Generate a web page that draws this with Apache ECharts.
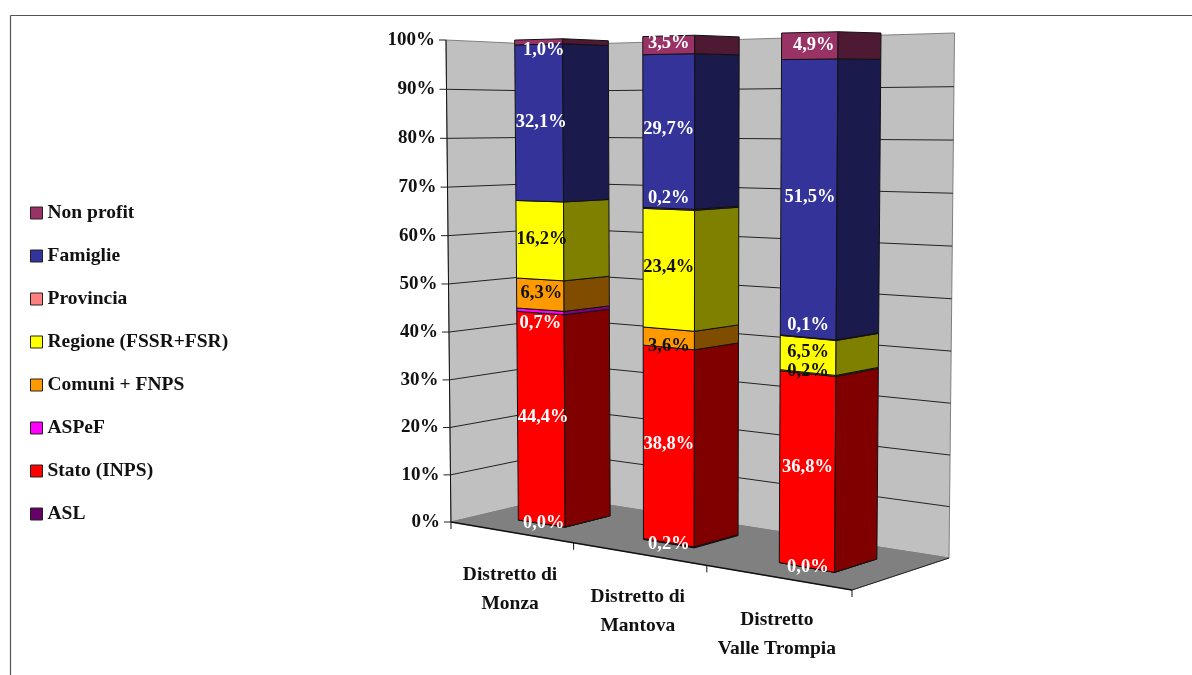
<!DOCTYPE html>
<html><head><meta charset="utf-8"><style>html,body{margin:0;padding:0;background:#fff}#c{width:1192px;height:675px}</style>
<script src="https://cdn.jsdelivr.net/npm/echarts@6/dist/echarts.min.js"></script></head>
<body><div id="c"></div>
<script>
// ---------- data (percent, as printed on the chart) ----------
const categories = ['Distretto di\nMonza', 'Distretto di\nMantova', 'Distretto\nValle Trompia'];
const tickValues = [0,10,20,30,40,50,60,70,80,90,100];
const seriesNames = ['ASL','Stato (INPS)','ASPeF','Comuni + FNPS','Regione (FSSR+FSR)','Provincia','Famiglie','Non profit'];
const asl       = [0.0, 0.2, 0.0];
const stato     = [44.4, 38.8, 36.8];
const aspef     = [0.7, null, null];
const comuni    = [6.3, 3.6, 0.2];
const regione   = [16.2, 23.4, 6.5];
const provincia = [null, 0.2, 0.1];
const famiglie  = [32.1, 29.7, 51.5];
const nonProfit = [1.0, 3.5, 4.9];
const allValues = [asl, stato, aspef, comuni, regione, provincia, famiglie, nonProfit];

// ---------- styles ----------
const faceColors = ['#660066','#FF0000','#FF00FF','#FF9900','#FFFF00','#FF8080','#333399','#993366'];
const sideColors = ['#330033','#800000','#800080','#804D00','#808000','#804040','#1A1A4D','#4D1933'];
const labelColors = ['#fff','#fff','#fff','#111','#111','#fff','#fff','#fff'];
const FONT = '"Liberation Serif"';
const labelNudge = {'2,0':[0,12],'7,0':[5,8],'3,1':[0,8],'5,1':[0,-11],'5,2':[0,-12],'3,2':[0,-2],'4,2':[0,-3],
  '0,0':[2,0],'0,1':[0,1],'0,2':[1,0],'1,0':[2,-1],'3,0':[1,-1],'4,0':[2,-1],'6,0':[2,-1],'7,2':[4,-1],'1,1':[0,-1],'1,2':[0,-3],'4,1':[0,-2],'6,1':[0,-2],'7,1':[0,-2],'6,2':[1,-1]};

// ---------- chart layout: grid gives unit space, project() gives the 3D view ----------
const GRID = {left:100, top:100, width:600, height:400};
function floorPt(u,d){
  const W = 1 - 0.1189*u + 0.0524*d;
  return [(299.7*u + 135.2*d + 451)/W, (-2.15*u + 1.04*d + 522)/W];
}
function project(u,d,v){
  const f = floorPt(u,d);
  const g = v/(1 + 0.025*(1-v));
  const bow = u*(1-u);
  const h = 482 + 77.6*u - 30*d - 4.6*u*d - 16*bow;
  const dx = -5 + 9*u + 1.5*d;
  return [f[0] + dx*g, f[1] - 8*bow - h*g];
}
const toU = px => (px - GRID.left)/GRID.width;
const toV = py => (GRID.top + GRID.height - py)/GRID.height;
const BAR_HALF = 0.064, D0 = 0.28, D1 = 0.71;

const totals = categories.map((_,i)=>allValues.reduce((s,a)=>s+(a[i]||0),0));
function stacked(k){
  return categories.map((_,i)=>{
    if(allValues[k][i]==null) return [i,null,null,null];
    let s=0; for(let j=0;j<k;j++) s+=allValues[j][i]||0;
    return [i, s/totals[i]*100, (s+allValues[k][i])/totals[i]*100, allValues[k][i]];
  });
}
const fmt = v => v.toFixed(1).replace('.',',')+'%';

function renderBar(k){
  return function(params, api){
    const i = api.value(0), a = api.value(1), b = api.value(2), raw = api.value(3);
    if(isNaN(a)) return null;
    const p0 = api.coord([i,a]), p1 = api.coord([i,b]);
    const u = toU(p0[0]), v0 = toV(p0[1]), v1 = toV(p1[1]);
    const u0=u-BAR_HALF, u1=u+BAR_HALF;
    const A=project(u0,D0,v0),B=project(u1,D0,v0),C=project(u1,D0,v1),E=project(u0,D0,v1);
    const F=project(u1,D1,v0),G=project(u1,D1,v1);
    const st = {stroke:'#111',lineWidth:1,lineJoin:'round'};
    const n = labelNudge[k+','+i]||[0,0];
    const cx=(A[0]+B[0]+C[0]+E[0])/4+n[0], cy=(A[1]+B[1]+C[1]+E[1])/4+n[1];
    const col = (k===3&&i===2)?'#111':labelColors[k];
    return {type:'group',children:[
      {type:'polygon',shape:{points:[A,B,C,E]},style:{fill:faceColors[k],...st}},
      {type:'polygon',shape:{points:[B,F,G,C]},style:{fill:sideColors[k],...st}},
      {type:'text',z2:100,style:{text:fmt(raw),x:cx,y:cy,align:'center',verticalAlign:'middle',fill:col,font:'bold 18.5px '+FONT}}
    ]};
  };
}

function renderFrame(params, api){
  const ch=[];
  const line=(a,b,c,w)=>ch.push({type:'line',shape:{x1:a[0],y1:a[1],x2:b[0],y2:b[1]},style:{stroke:c,lineWidth:w}});
  const LB=project(0,0,0),LT=project(0,0,1),BB=project(0,1,0),BT=project(0,1,1),
        RB=project(1,1,0),RT=project(1,1,1),FB=project(1,0,0);
  const gs={stroke:'#808080',lineWidth:1};
  ch.push({type:'polygon',shape:{points:[LT,BT,BB,LB]},style:{fill:'#C0C0C0',...gs}});
  ch.push({type:'polygon',shape:{points:[BT,RT,RB,BB]},style:{fill:'#C0C0C0',...gs}});
  ch.push({type:'polygon',shape:{points:[LB,BB,RB,FB]},style:{fill:'#808080',stroke:'#808080',lineWidth:1}});
  tickValues.forEach(t=>{
    const v=toV(api.coord([0,t])[1]);
    const a=project(0,0,v),b=project(0,1,v),c=project(1,1,v);
    if(t>0&&t<100){line(a,b,'#222',1);line(b,c,'#222',1);}
    line([a[0]-7,a[1]],a,'#222',1);
    ch.push({type:'text',style:{text:t+'%',x:a[0]-11,y:a[1],align:'right',verticalAlign:'middle',fill:'#111',font:'bold 19px '+FONT}});
  });
  line(LT,[LB[0],LB[1]+7],'#111',1);
  line(LB,FB,'#111',1.4);
  line(FB,RB,'#222',1);
  for(let i=1;i<=categories.length;i++){
    const p=floorPt(i/categories.length,0);
    line(p,[p[0],p[1]+7],'#111',1);
  }
  categories.forEach((c,i)=>{
    const u=toU(api.coord([i,0])[0]);
    const p=floorPt(u,0);
    ch.push({type:'text',style:{text:c,x:p[0]-1,y:p[1]+28.5,align:'center',verticalAlign:'top',lineHeight:29,fill:'#111',font:'bold 19.5px '+FONT}});
  });
  return {type:'group',children:ch};
}

const option = {
  animation:false,
  backgroundColor:'#fff',
  grid:{left:GRID.left,top:GRID.top,width:GRID.width,height:GRID.height},
  xAxis:{type:'category',data:categories,show:false},
  yAxis:{type:'value',min:0,max:100,interval:10,show:false},
  legend:{orient:'vertical',left:30,top:203,padding:0,itemWidth:12,itemHeight:12,itemGap:23,icon:'rect',
    data:seriesNames.slice().reverse(),
    itemStyle:{borderColor:'#222',borderWidth:1},
    textStyle:{fontFamily:FONT,fontWeight:'bold',fontSize:19.5,color:'#111'},
    selectedMode:false},
  graphic:[
    {type:'line',z:-1,shape:{x1:10.5,y1:15.5,x2:1192,y2:15.5},style:{stroke:'#555',lineWidth:1.2}},
    {type:'line',z:-1,shape:{x1:10.5,y1:15.5,x2:10.5,y2:675},style:{stroke:'#555',lineWidth:1.2}}
  ],
  series:[
    {type:'custom',name:'frame',z:1,silent:true,data:[[0]],encode:{x:0},renderItem:renderFrame},
    ...seriesNames.map((name,k)=>({
      type:'custom',name,z:2,itemStyle:{color:faceColors[k]},
      data:stacked(k),encode:{x:0,y:[1,2]},renderItem:renderBar(k)
    }))
  ]
};
echarts.init(document.getElementById('c'),null,{renderer:'canvas'}).setOption(option);
</script></body></html>
